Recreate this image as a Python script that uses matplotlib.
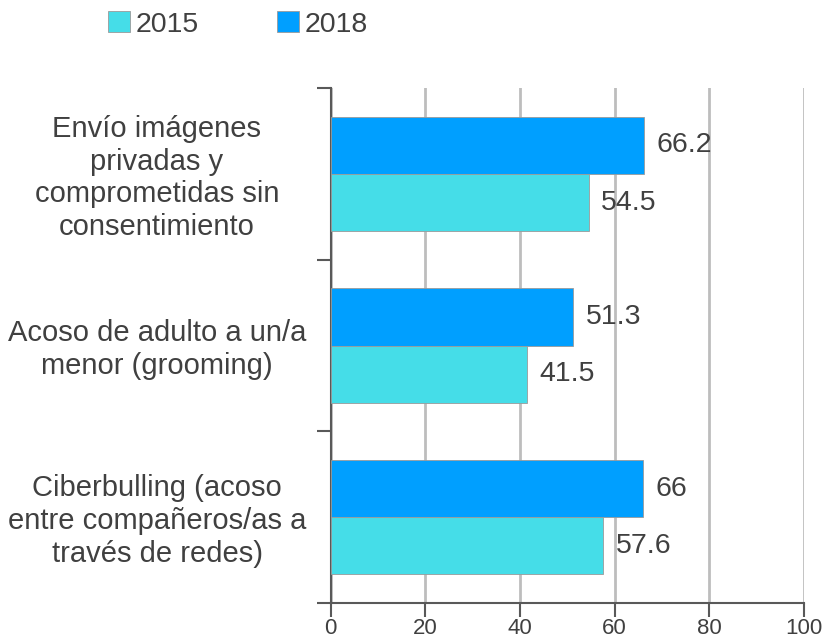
import matplotlib.pyplot as plt
from matplotlib.transforms import blended_transform_factory, ScaledTranslation
from matplotlib.patches import Patch

# === Data ===
categories = [
    "Ciberbulling (acoso\nentre compañeros/as a\ntravés de redes)",
    "Acoso de adulto a un/a\nmenor (grooming)",
    "Envío imágenes\nprivadas y\ncomprometidas sin\nconsentimiento",
]
values_2015 = [57.6, 41.5, 54.5]
values_2018 = [66, 51.3, 66.2]
labels_2015 = ["57.6", "41.5", "54.5"]
labels_2018 = ["66", "51.3", "66.2"]
x_ticks = [0, 20, 40, 60, 80, 100]

c2015 = "#45DDE8"
c2018 = "#009FFF"
txt = "#404040"
axis_col = "#595959"

plt.rcParams["font.family"] = ["Liberation Sans", "DejaVu Sans"]

fig = plt.figure(figsize=(8.27, 6.42), dpi=100)
ax = fig.add_axes([0.400, 0.0607, 0.572, 0.802])

h = 1 / 3
y = list(range(len(categories)))
y18 = [v + h / 2 for v in y]
y15 = [v - h / 2 for v in y]

ax.barh(y18, values_2018, height=h, color=c2018, edgecolor="#9A9A9A", linewidth=0.6, zorder=3)
ax.barh(y15, values_2015, height=h, color=c2015, edgecolor="#9A9A9A", linewidth=0.6, zorder=3)

for yy, v, s in zip(y18, values_2018, labels_2018):
    ax.text(v + 2.6, yy, s, va="center", ha="left", fontsize=20.5, color=txt, zorder=4)
for yy, v, s in zip(y15, values_2015, labels_2015):
    ax.text(v + 2.6, yy, s, va="center", ha="left", fontsize=20.5, color=txt, zorder=4)

ax.set_xlim(0, 100)
ax.set_ylim(-0.5, len(categories) - 0.5)
ax.set_xticks(x_ticks)
ax.set_xticklabels([str(t) for t in x_ticks], fontsize=16, color=txt)
ax.tick_params(axis="x", length=10, width=1.5, color=axis_col, pad=1)

ax.set_yticks([-0.5 + i for i in range(len(categories) + 1)])
ax.set_yticklabels([])
ax.tick_params(axis="y", length=10, width=1.5, color=axis_col)

ax.grid(axis="x", color="#BDBDBD", linewidth=2, zorder=0)
for s in ["top", "right"]:
    ax.spines[s].set_visible(False)
for s in ["left", "bottom"]:
    ax.spines[s].set_color(axis_col)
    ax.spines[s].set_linewidth(1.5)

# category labels, centred in the left margin
tr = blended_transform_factory(fig.transFigure, ax.transData)
tr = tr + ScaledTranslation(0, -4 / 100, fig.dpi_scale_trans)
for yy, lab in zip(y, categories):
    ax.text(157 / 827, yy, lab, transform=tr, ha="center", va="center",
            multialignment="center", fontsize=21, color=txt, linespacing=1.22)

handles = [Patch(facecolor=c2015, edgecolor="#9A9A9A", linewidth=0.6),
           Patch(facecolor=c2018, edgecolor="#9A9A9A", linewidth=0.6)]
fig.legend(handles, ["2015", "2018"], loc="center left", bbox_to_anchor=(0.100, 0.962),
           ncol=2, frameon=False, fontsize=20.5, labelcolor=txt,
           handlelength=0.77, handleheight=0.75, handletextpad=0.18, columnspacing=2.77)

fig.savefig("out.png", dpi=100)
